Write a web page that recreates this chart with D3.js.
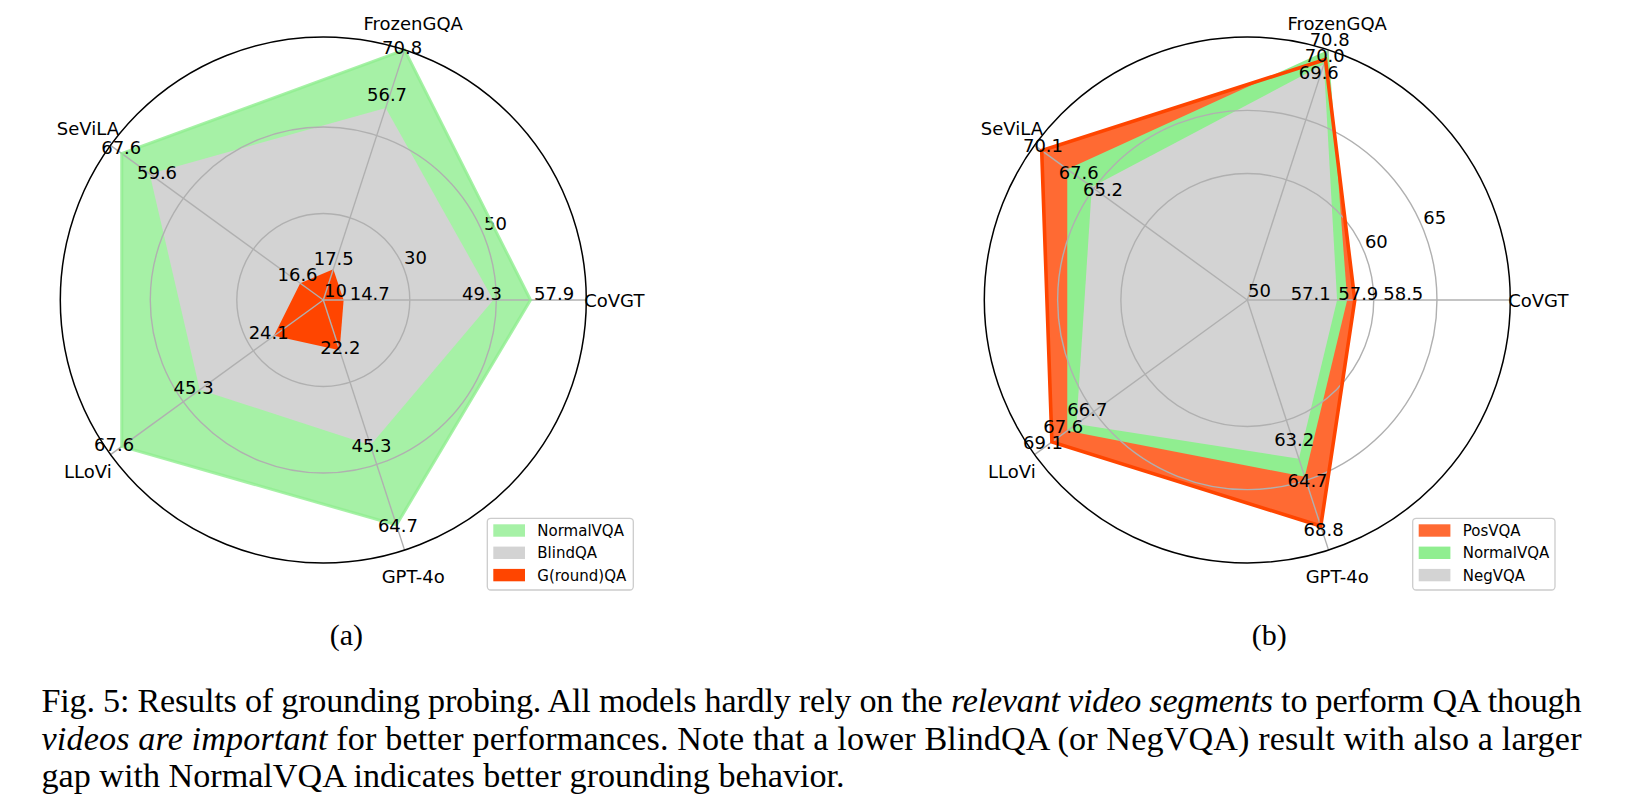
<!DOCTYPE html>
<html><head><meta charset="utf-8">
<script src="https://cdn.jsdelivr.net/npm/d3@7"></script>
<style>body{margin:0;background:#fff;} svg{display:block;}</style>
</head><body>
<svg id="fig" width="1626" height="807"></svg>
<script>
// ---------------- DATA ----------------
const categories = ["CoVGT", "FrozenGQA", "SeViLA", "LLoVi", "GPT-4o"];
// panel (a)
const normalVQA_a = [57.9, 70.8, 67.6, 67.6, 64.7];
const blindQA_a   = [49.3, 56.7, 59.6, 45.3, 45.3];
const groundQA_a  = [14.7, 17.5, 16.6, 24.1, 22.2];
const rTicks_a    = [10, 30, 50];
// panel (b)
const posVQA_b    = [58.5, 70.0, 70.1, 69.1, 68.8];
const normalVQA_b = [57.9, 70.8, 67.6, 67.6, 64.7];
const negVQA_b    = [57.1, 69.6, 65.2, 66.7, 63.2];
const rTicks_b    = [50, 60, 65];
const subLabels   = ["(a)", "(b)"];

// ---------------- STYLE (label nudges in px, relative to vertex) ----------------
const nudge_a_normal = [[23.6,-6.7],[-2.5,-2.4],[-0.5,-6],[-7.6,-2.3],[1.5,0.8]];
const nudge_a_blind  = [[-11.3,-6.7],[1.3,-13.4],[7.3,-1.1],[-6.2,-2.3],[1,0.6]];
const nudge_a_ground = [[26.1,-6.7],[0.4,-10.7],[-2.7,-9.2],[-5.3,-3.4],[0.7,-2.7]];
const nudge_b_pos    = [[48.5,-7],[-0.7,-4.3],[1.3,-5.1],[-8.9,0.2],[2.9,3.9]];
const nudge_b_normal = [[11.1,-7],[1.1,-10.7],[11.4,2.8],[-4,-4],[2.8,4.2]];
const nudge_b_neg    = [[-26.4,-7],[-5.1,7.9],[11.2,2.7],[10.9,-14.5],[-4.7,-19.5]];

const W = 1626, H = 807;
const FONT = "'DejaVu Sans', sans-serif";
const svg = d3.select("#fig");
svg.append("rect").attr("width", W).attr("height", H).attr("fill", "#fff");

const nAx = categories.length;
const thetaScale = d3.scaleLinear().domain([0, nAx]).range([0, 2 * Math.PI]);

function drawRadar(cfg) {
  const g = svg.append("g").attr("transform", `translate(${cfg.cx},${cfg.cy})`);
  const rmax = d3.max(cfg.series.flatMap(s => s.values));
  const r = d3.scaleLinear().domain([cfg.rmin, rmax]).range([0, cfg.R]);
  const th = i => thetaScale(i);
  const pt = (i, v) => [r(v) * Math.cos(th(i)), -r(v) * Math.sin(th(i))];
  const radial = d3.lineRadial()
    .angle((d, i) => Math.PI / 2 - th(i))
    .radius(d => r(d))
    .curve(d3.curveLinearClosed);

  // fills
  cfg.series.forEach(s => {
    g.append("path").attr("d", radial(s.values))
      .attr("fill", s.fill).attr("fill-opacity", s.fo).attr("stroke", "none");
  });
  // grid circles
  cfg.ticks.filter(t => t > cfg.rmin).forEach(t => {
    g.append("circle").attr("r", r(t)).attr("fill", "none")
      .attr("stroke", "#b0b0b0").attr("stroke-width", 1.4);
  });
  // spokes
  categories.forEach((c, i) => {
    const [x, y] = pt(i, rmax);
    g.append("line").attr("x1", 0).attr("y1", 0).attr("x2", x).attr("y2", y)
      .attr("stroke", "#b0b0b0").attr("stroke-width", 1.4);
  });
  // radial tick labels
  const la = 22.5 * Math.PI / 180;
  cfg.ticks.forEach(t => {
    const rr = r(t);
    g.append("text").attr("x", rr * Math.cos(la) + 0.8).attr("y", -rr * Math.sin(la) - 3.4)
      .attr("font-family", FONT).attr("font-size", 18).attr("fill", "#000")
      .attr("text-anchor", "start").text(t);
  });
  // outlines
  cfg.series.filter(s => s.stroke).forEach(s => {
    g.append("path").attr("d", radial(s.values)).attr("fill", "none")
      .attr("stroke", s.stroke).attr("stroke-opacity", s.so)
      .attr("stroke-width", s.sw).attr("stroke-linejoin", "miter");
  });
  // spine
  g.append("circle").attr("r", cfg.R).attr("fill", "none")
    .attr("stroke", "#000").attr("stroke-width", 1.5);
  // category labels
  categories.forEach((c, i) => {
    const d = cfg.R + 28;
    g.append("text")
      .attr("x", d * Math.cos(th(i))).attr("y", -d * Math.sin(th(i)) + 6.5)
      .attr("text-anchor", "middle").attr("font-family", FONT).attr("font-size", 18)
      .attr("fill", "#000").text(c);
  });
  // value labels
  cfg.series.forEach(s => {
    s.values.forEach((v, i) => {
      const [x, y] = pt(i, v);
      const [dx, dy] = s.nudges[i];
      g.append("text").attr("x", x + dx).attr("y", y + dy + 6.5)
        .attr("text-anchor", "middle").attr("font-family", FONT).attr("font-size", 18)
        .attr("fill", "#000").text(v.toFixed(1));
    });
  });
  // legend
  const L = cfg.legend;
  const lg = svg.append("g").attr("transform", `translate(${L.x},${L.y})`);
  lg.append("rect").attr("width", L.w).attr("height", L.h).attr("rx", 3.5)
    .attr("fill", "#fff").attr("fill-opacity", 0.8)
    .attr("stroke", "#cccccc").attr("stroke-width", 1.3);
  cfg.series.forEach((s, k) => {
    const yc = 12.2 + k * 22.3;
    lg.append("rect").attr("x", 6).attr("y", yc - 6.2).attr("width", 31.7).attr("height", 12.4)
      .attr("fill", s.fill).attr("fill-opacity", s.fo);
    lg.append("text").attr("x", 50).attr("y", yc + 5.5)
      .attr("font-family", FONT).attr("font-size", 15).attr("fill", "#000").text(s.name);
  });
  // sub caption
  svg.append("text").attr("x", cfg.cx + cfg.subDx).attr("y", 645)
    .attr("text-anchor", "middle").attr("font-family", "'Liberation Serif', serif")
    .attr("font-size", 30).attr("fill", "#000").text(cfg.sub);
}

drawRadar({
  cx: 323.3, cy: 300, R: 263, rmin: 10, ticks: rTicks_a, sub: subLabels[0], subDx: 23,
  legend: { x: 487.3, y: 518.3, w: 146, h: 71.7 },
  series: [
    { name: "NormalVQA", values: normalVQA_a, fill: "#90ee90", fo: 0.8, stroke: "#90ee90", so: 0.8, sw: 3, nudges: nudge_a_normal },
    { name: "BlindQA", values: blindQA_a, fill: "#d3d3d3", fo: 1, nudges: nudge_a_blind },
    { name: "G(round)QA", values: groundQA_a, fill: "#ff4500", fo: 1, nudges: nudge_a_ground }
  ]
});
drawRadar({
  cx: 1247.3, cy: 300, R: 263, rmin: 50, ticks: rTicks_b, sub: subLabels[1], subDx: 22,
  legend: { x: 1412.7, y: 518.3, w: 142.3, h: 71.7 },
  series: [
    { name: "PosVQA", values: posVQA_b, fill: "#ff4500", fo: 0.8, stroke: "#ff4500", so: 1, sw: 3.6, nudges: nudge_b_pos },
    { name: "NormalVQA", values: normalVQA_b, fill: "#90ee90", fo: 1, nudges: nudge_b_normal },
    { name: "NegVQA", values: negVQA_b, fill: "#d3d3d3", fo: 1, nudges: nudge_b_neg }
  ]
});

// ---------------- CAPTION ----------------
const captionLines = [
  [["Fig. 5: Results of grounding probing. All models hardly rely on the ", false], ["relevant video segments", true], [" to perform QA though", false]],
  [["videos are important", true], [" for better performances. Note that a lower BlindQA (or NegVQA) result with also a larger", false]],
  [["gap with NormalVQA indicates better grounding behavior.", false]]
];
const capX = 41.5, capW = 1540, capBase = [712, 749.5, 787], lastW = 803.5;
const SERIF = "'Liberation Serif', serif";
// measure last line to size font
const probe = svg.append("text").attr("font-family", SERIF).attr("font-size", 30).text(captionLines[2][0][0]);
const meas = probe.node().getComputedTextLength();
probe.remove();
const capSize = 30 * lastW / meas;
captionLines.forEach((parts, li) => {
  const t = svg.append("text").attr("x", capX).attr("y", capBase[li])
    .attr("font-family", SERIF).attr("font-size", capSize).attr("fill", "#000");
  parts.forEach(([s, it]) => {
    t.append("tspan").attr("font-style", it ? "italic" : "normal").text(s);
  });
  if (li < 2) t.attr("textLength", capW).attr("lengthAdjust", "spacing");
});
</script>
</body></html>
